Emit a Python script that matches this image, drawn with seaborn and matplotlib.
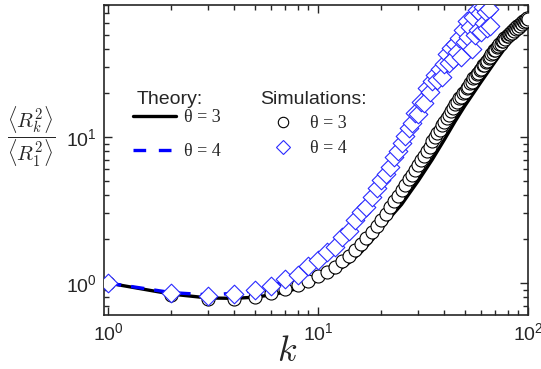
import matplotlib
matplotlib.use('Agg')
import matplotlib.pyplot as plt
import seaborn as sns
from matplotlib.lines import Line2D
from matplotlib.ticker import NullFormatter

# theory curves
k_th3 = [1, 2, 3, 4, 5, 6, 7, 8, 9, 10, 12, 14, 16, 18, 20, 22, 25, 28, 30,
         35, 40, 45, 50, 60, 70, 80, 90, 100]
th3 = [1.0, 0.84, 0.79, 0.785, 0.80, 0.83, 0.87, 0.92, 0.98, 1.04, 1.18, 1.37,
       1.62, 1.95, 2.35, 2.8, 3.45, 4.35, 5.0, 7.0, 9.6, 12.8, 16.3, 24.0, 33.0,
       43.0, 54.0, 66.0]

k_th4 = [1, 2, 3, 4, 5, 6, 7, 8, 10, 12, 14, 16, 18, 20, 22, 24, 26, 28, 30,
         35, 40, 45, 50, 55, 60]
th4 = [1.0, 0.86, 0.83, 0.85, 0.89, 0.95, 1.04, 1.14, 1.40, 1.75, 2.2, 2.8,
       3.6, 4.6, 5.8, 7.3, 8.9, 10.8, 13.0, 19.5, 28.0, 39.0, 54.0, 73.0, 95.0]

# simulations
k_sim3 = list(range(1, 101))
sim3 = [1.00, 0.83, 0.78, 0.78, 0.80, 0.85, 0.91, 0.97, 1.04, 1.11,
        1.19, 1.29, 1.41, 1.54, 1.69, 1.85, 2.03, 2.23, 2.46, 2.72,
        2.98, 3.30, 3.62, 3.95, 4.35, 4.72, 5.15, 5.52, 5.98, 6.42,
        6.95, 7.42, 8.05, 8.55, 9.35, 9.95, 10.7, 11.2, 12.1, 12.6,
        13.5, 14.1, 15.1, 15.7, 16.8, 17.3, 18.4, 18.8, 19.9, 20.4,
        21.6, 22.1, 23.4, 23.8, 25.2, 25.6, 27.0, 27.4, 28.9, 29.3,
        30.9, 31.2, 32.8, 33.1, 34.9, 35.2, 37.1, 37.4, 39.3, 39.6,
        41.5, 41.6, 43.4, 43.5, 45.3, 45.1, 47.2, 46.9, 49.0, 48.7,
        50.9, 50.3, 52.5, 51.6, 54.2, 53.0, 55.7, 54.4, 57.1, 56.0,
        58.6, 57.7, 60.2, 59.3, 61.8, 60.9, 63.4, 62.3, 65.1, 64.0]

k_sim4 = list(range(1, 67))
sim4 = [1.00, 0.85, 0.82, 0.84, 0.89, 0.95, 1.07, 1.13, 1.30, 1.44,
        1.62, 1.77, 2.06, 2.27, 2.72, 3.08, 3.30, 3.85, 4.45, 5.05,
        5.55, 6.20, 7.25, 7.95, 9.10, 10.2, 11.6, 12.5, 14.6, 14.3,
        17.4, 17.0, 21.6, 20.2, 24.2, 26.6, 24.4, 29.0, 25.8, 31.8,
        37.0, 32.0, 40.5, 34.0, 43.5, 38.0, 47.5, 35.5, 54.0, 45.0,
        62.0, 48.0, 57.0, 40.0, 66.0, 50.0, 74.0, 54.0, 70.0, 52.0,
        77.0, 60.0, 72.0, 56.0, 75.0, 57.5]

sns.set_style("ticks", {"xtick.direction": "in", "ytick.direction": "in"})
plt.rcParams['font.family'] = ['Liberation Sans', 'DejaVu Sans']
plt.rcParams['mathtext.fontset'] = 'custom'
plt.rcParams['mathtext.rm'] = 'Liberation Sans'
plt.rcParams['mathtext.it'] = 'Liberation Sans:italic'

BLUE = '#0000ff'

fig = plt.figure(figsize=(5.41, 3.69), dpi=100)
ax = fig.add_axes([104 / 541, 1 - 315 / 369, 424 / 541, 310 / 369])

sns.lineplot(x=k_th3, y=th3, color='black', lw=2.4, ax=ax, zorder=2)
sns.lineplot(x=k_th4, y=th4, color=BLUE, lw=2.4, ls=(0, (4.0, 3.0)), ax=ax, zorder=2)
sns.scatterplot(x=k_sim3, y=sim3, marker='o', s=88, facecolor='white',
                edgecolor='black', linewidth=0.8, ax=ax, zorder=3)
sns.scatterplot(x=k_sim4, y=sim4, marker='D', s=90, facecolor='white',
                edgecolor='#2a2aff', linewidth=0.8, ax=ax, zorder=4)

ax.set_xscale('log')
ax.set_yscale('log')
ax.set_xlim(0.957, 100)
ax.set_ylim(0.604, 80)
ax.xaxis.set_minor_formatter(NullFormatter())
ax.yaxis.set_minor_formatter(NullFormatter())
ax.tick_params(which='both', top=True, right=True, labelsize=14, width=1.0, pad=5)
ax.tick_params(which='major', length=6)
ax.tick_params(which='minor', length=3.5)
for sp in ax.spines.values():
    sp.set_linewidth(1.2)

ax.set_xlabel('$k$', fontsize=26, math_fontfamily='cm')
ax.xaxis.set_label_coords(0.432, -0.06)
ax.set_ylabel(r'$\dfrac{\langle R_k^2\rangle}{\langle R_1^2\rangle}$', rotation=0,
              fontsize=15, math_fontfamily='cm', ha='center', va='center')
ax.yaxis.set_label_coords(-0.172, 0.574)

# legends
fig.text(137 / 541, 1 - 100 / 369, 'Theory:', ha='left', va='center', fontsize=14)
fig.text(260 / 541, 1 - 99 / 369, 'Simulations:', ha='left', va='center', fontsize=14)

th_handles = [Line2D([], [], color='black', lw=2.4),
              Line2D([], [], color=BLUE, lw=2.4, ls=(0, (3.8, 3.8)))]
leg1 = ax.legend(th_handles, ['θ = 3', 'θ = 4'], loc='upper left',
                 bbox_to_anchor=(133 / 541, 1 - 109 / 369), bbox_transform=fig.transFigure,
                 frameon=False, prop={'family': 'Liberation Serif', 'size': 13},
                 handlelength=2.4, handletextpad=0.4, labelspacing=0.95,
                 borderpad=0, borderaxespad=0)
ax.add_artist(leg1)

sim_handles = [Line2D([], [], ls='none', marker='o', ms=7.5, mfc='white', mec='black', mew=0.8),
               Line2D([], [], ls='none', marker='D', ms=7, mfc='white', mec='#2a2aff', mew=0.8)]
ax.legend(sim_handles, ['θ = 3', 'θ = 4'], loc='upper left',
          bbox_to_anchor=(272 / 541, 1 - 115 / 369), bbox_transform=fig.transFigure,
          frameon=False, prop={'family': 'Liberation Serif', 'size': 13},
          handlelength=1.2, handletextpad=0.9, labelspacing=0.45,
          borderpad=0, borderaxespad=0)

fig.savefig('out.png', dpi=100)
